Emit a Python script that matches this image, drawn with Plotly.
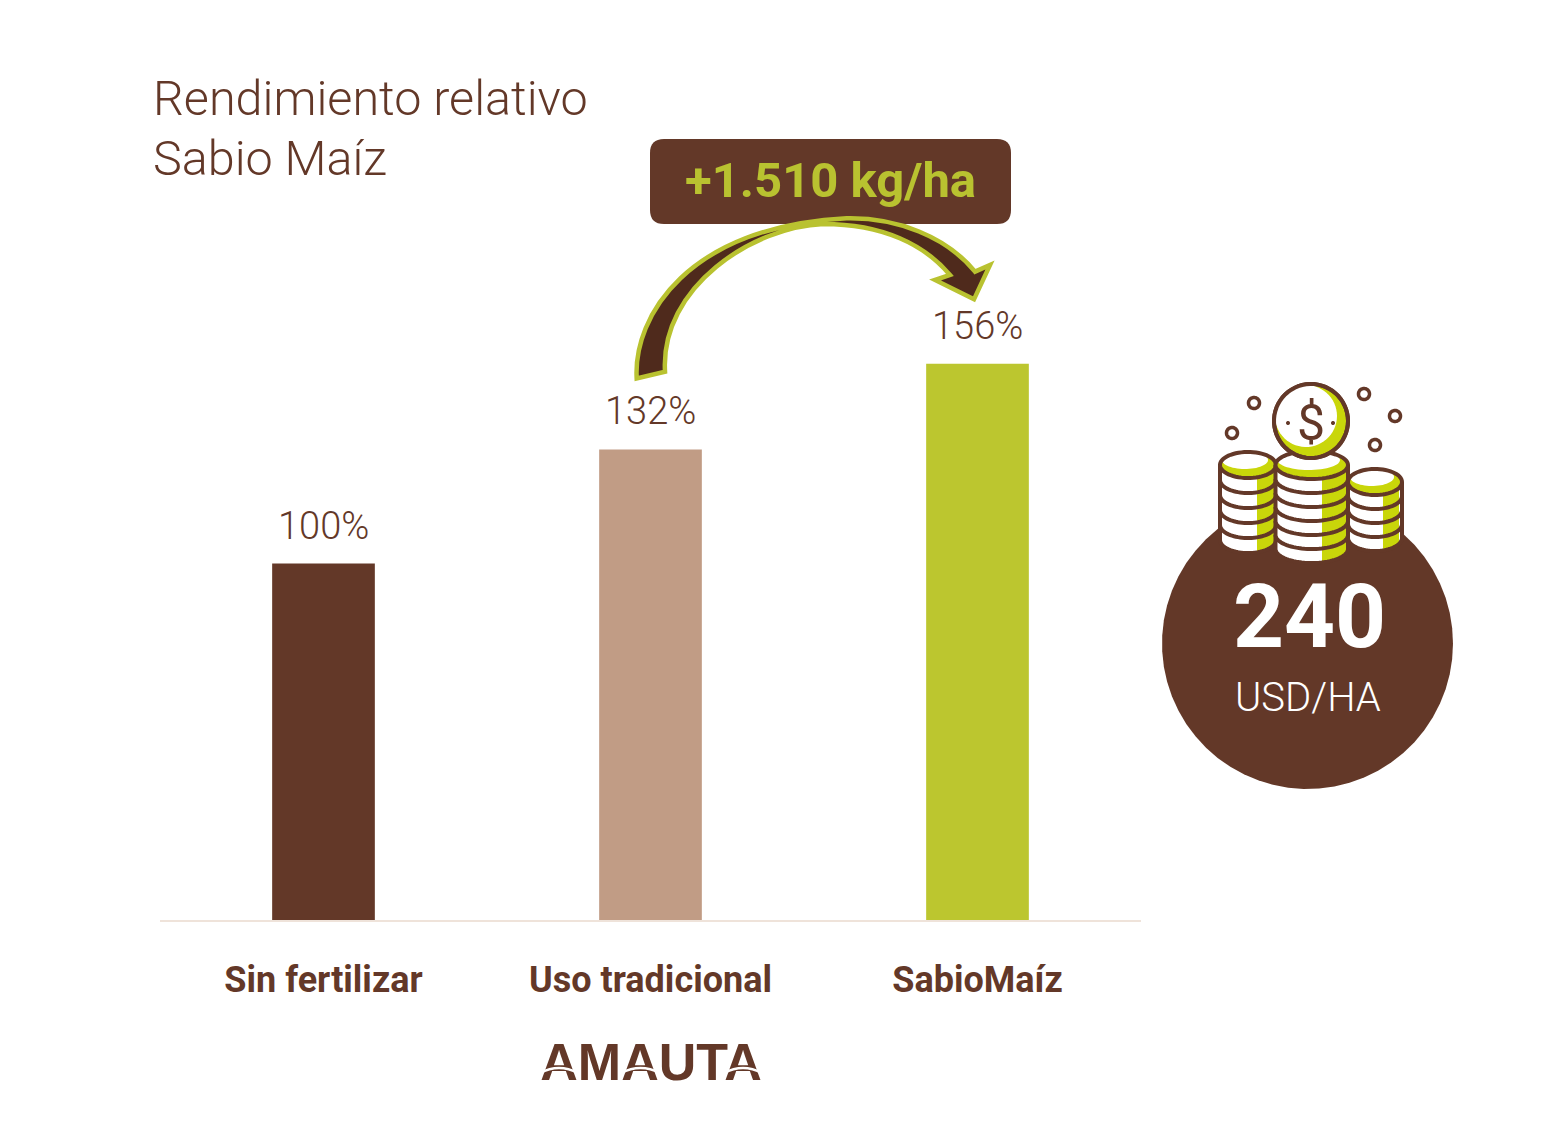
import numpy as np
import plotly.graph_objects as go

W, H = 1551, 1125

categories = ["Sin fertilizar", "Uso tradicional", "SabioMaíz"]
rendimiento = [100, 132, 156]
etiquetas = ["100%", "132%", "156%"]
colores = ["#633828", "#C19C85", "#BCC62F"]

BROWN = "#633828"
DARK = "#4F2A1C"
LIME = "#B9C230"
COIN = "#C9D60A"
FONT = "Roboto"


def px(x):
    return x / W


def py(y):
    return 1 - y / H


def pts(xs, ys, close=True):
    s = "M" + " L".join(f"{px(a):.5f},{py(b):.5f}" for a, b in zip(xs, ys))
    return s + (" Z" if close else "")


shapes = []


def add_path(path, fill="rgba(0,0,0,0)", line=None, lw=0):
    shapes.append(dict(type="path", xref="paper", yref="paper", path=path, fillcolor=fill,
                       line=dict(color=line or "rgba(0,0,0,0)", width=lw)))


def ellipse(cx, cy, rx, ry, fill, line=None, lw=0):
    t = np.linspace(0, 2 * np.pi, 60)
    add_path(pts(cx + rx * np.cos(t), cy + ry * np.sin(t)), fill, line, lw)


def stack(x0, x1, top, n, t, ry, g0, g1):
    # coin stack, drawn from the bottom up
    cx, rx = (x0 + x1) / 2, (x1 - x0) / 2
    for i in range(n, 0, -1):
        y_top = top + (i - 1) * t
        y_bot = top + i * t
        a = np.linspace(np.pi, 0, 40)
        xs = cx + rx * np.cos(a)
        low = y_bot + ry * np.sin(a)
        add_path(pts(np.r_[x0, xs, x1], np.r_[y_top, low, y_top]), "white")
        g = np.linspace(g0, g1, 16)
        low_g = y_bot + ry * np.sqrt(1 - ((g - cx) / rx) ** 2)
        add_path(pts(np.r_[g, g[::-1]], np.r_[low_g, y_top + 0 * g]), COIN)
        add_path(pts(np.r_[x0, xs, x1], np.r_[y_top, low, y_top], close=False), line=BROWN, lw=4)
    # top face
    ellipse(cx, top, rx, ry, COIN)
    ellipse(cx - 3, top - 5, rx - 5, ry - 4, "white")
    ellipse(cx, top, rx, ry, "rgba(0,0,0,0)", BROWN, 4)


# brown circle behind the coins
ellipse(1307.5, 643.5, 145.5, 145.5, BROWN)

stack(1348, 1402, 482, 4, 14, 13, 1383, 1399)
stack(1220, 1276, 465, 5, 15, 13, 1257, 1274)
stack(1275.5, 1348, 465, 6, 14, 14, 1322, 1346)

# big coin
ellipse(1311, 421, 37, 37, COIN, BROWN, 4)
ellipse(1306, 416, 31, 31, "white")
ellipse(1311, 421, 37, 37, "rgba(0,0,0,0)", BROWN, 4)
ellipse(1288, 423, 2, 2, BROWN)
ellipse(1333, 423, 2, 2, BROWN)

# small floating coins
for cx, cy in [(1254, 403), (1232, 433), (1364, 394), (1395, 416), (1375, 445)]:
    ellipse(cx, cy, 5.5, 5.5, "white", BROWN, 3.5)

# rounded box
bx0, bx1, by0, by1, r = 650, 1011, 139, 224, 14
add_path(
    f"M{px(bx0 + r)},{py(by0)} L{px(bx1 - r)},{py(by0)} Q{px(bx1)},{py(by0)} {px(bx1)},{py(by0 + r)} "
    f"L{px(bx1)},{py(by1 - r)} Q{px(bx1)},{py(by1)} {px(bx1 - r)},{py(by1)} "
    f"L{px(bx0 + r)},{py(by1)} Q{px(bx0)},{py(by1)} {px(bx0)},{py(by1 - r)} "
    f"L{px(bx0)},{py(by0 + r)} Q{px(bx0)},{py(by0)} {px(bx0 + r)},{py(by0)} Z",
    BROWN,
)


# curved arrow, points
def z(x, y):
    return f"{px(620 + x / 3):.5f},{py(130 + y / 3):.5f}"


add_path(
    f"M{z(50, 745)} C{z(40, 560)} {z(200, 290)} {z(680, 265)} C{z(830, 262)} {z(980, 320)} {z(1065, 425)} "
    f"L{z(1110, 405)} L{z(1062, 508)} L{z(945, 450)} L{z(990, 435)} "
    f"C{z(915, 345)} {z(790, 282)} {z(610, 282)} C{z(400, 290)} {z(120, 470)} {z(135, 725)} Z",
    DARK, LIME, 4.5,
)

# white cuts across the A's of the logo
for ax0, ax1 in [(540, 578), (621, 660), (724, 762)]:
    mid = (ax0 + ax1) / 2
    add_path(f"M{px(ax0)},{py(1073)} Q{px(mid)},{py(1063)} {px(ax1)},{py(1073)}", line="white", lw=2.5)

fig = go.Figure(go.Bar(x=categories, y=rendimiento, marker=dict(color=colores, line_width=0), width=0.314))

# logo text sits on a page-sized hidden axis pair, below the shape layer so the cuts show
fig.add_trace(go.Scatter(x=[651], y=[1067], mode="text", text=["AMAUTA"], xaxis="x2", yaxis="y2",
                         textfont=dict(family="Liberation Sans", size=52, color=BROWN, weight=700)))


def note(text, x, y, size, color=BROWN, weight=300, anchor="center"):
    fig.add_annotation(text=text, x=px(x), y=py(y), xref="paper", yref="paper", showarrow=False,
                       xanchor=anchor, yanchor="middle",
                       font=dict(family=FONT, size=size, color=color, weight=weight))


for cat, val, lab in zip(categories, rendimiento, etiquetas):
    fig.add_annotation(text=lab, x=cat, y=val, xref="x", yref="y", showarrow=False, yanchor="bottom",
                       yshift=14, font=dict(family=FONT, size=38, color=BROWN, weight=300))

note("Rendimiento relativo", 151, 99, 48.5, anchor="left")
note("Sabio Maíz", 151, 159, 48.5, anchor="left")
note("+1.510 kg/ha", 830, 180, 49, LIME, 700)
note("$", 1311, 423, 50, BROWN, 400)
note("240", 1309, 616, 89, "white", 700)
note("USD/HA", 1308, 697, 40, "white", 300)

fig.update_layout(
    width=W, height=H, margin=dict(l=0, r=0, t=0, b=0), paper_bgcolor="white", plot_bgcolor="rgba(0,0,0,0)",
    showlegend=False, shapes=shapes,
    xaxis=dict(domain=[160 / W, 1141 / W], showgrid=False, linecolor="#EFE3DA", linewidth=2,
               ticks="outside", ticklen=27, tickcolor="rgba(0,0,0,0)",
               tickfont=dict(family=FONT, size=36, color=BROWN, weight=700)),
    yaxis=dict(domain=[1 - 920 / H, 1], range=[0, 920 / 3.565], visible=False),
    xaxis2=dict(domain=[0, 1], range=[0, W], visible=False, anchor="y2"),
    yaxis2=dict(domain=[0, 1], range=[H, 0], visible=False, anchor="x2"),
)

fig.write_html("out.html", config=dict(displayModeBar=False), post_script="document.body.style.margin='0';")
